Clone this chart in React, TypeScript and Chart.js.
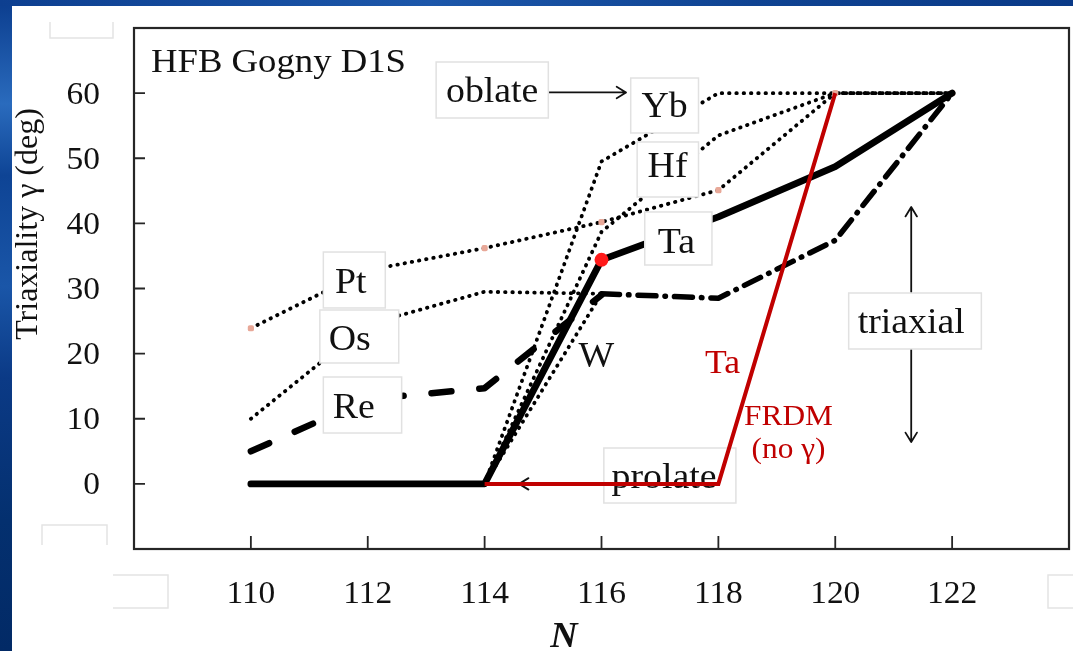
import React, { useEffect, useRef } from 'react';
import { Chart, registerables } from 'chart.js';

Chart.register(...registerables);

// Neutron number N for every calculated nucleus
const neutronNumbers = [110, 112, 114, 116, 118, 120, 122];

// HFB Gogny D1S triaxiality γ (deg) for each isotope chain
const gammaTa = [0, 0, 0, 34.4, 41.0, 48.7, 60];
const gammaW = [0, 0, 0, 29.2, 28.5, 37.4, 60];
const gammaRe = [5, 13, 14.7, 29, null, null, null];
const gammaOs = [10, 24.5, 29.5, 29.2, null, null, null];
const gammaPt = [23.9, 32.8, 36.2, 40.2, 45.1, 60, 60];
const gammaHf = [0, 0, 0, 38.7, 53.5, 60, 60];
const gammaYb = [0, 0, 0, 49.5, 60, 60, 60];

// FRDM prediction for Ta (no γ degree of freedom: prolate jumps to oblate)
const gammaTaFRDM = [null, null, 0, 0, 0, 60, null];

// Axis ticks and ranges
const xTickValues = [110, 112, 114, 116, 118, 120, 122];
const yTickValues = [0, 10, 20, 30, 40, 50, 60];
const xRange = [108, 124];
const yRange = [-10, 70];

const W = 1073;
const H = 651;
const SERIF = '"Liberation Serif", "Times New Roman", Times, serif';
const STRETCH = 1.08;
const DOTTED = [0.5, 6.8];
const DOT_WIDTH = 3.8;

type Pt = { x: number; y: number | null };
const toPoints = (vals: (number | null)[]): Pt[] =>
  neutronNumbers.map((n, i) => ({ x: n, y: vals[i] }));

function drawText(
  ctx: CanvasRenderingContext2D,
  text: string,
  x: number,
  y: number,
  size: number,
  opts: { align?: CanvasTextAlign; color?: string; font?: string; stretch?: number } = {}
) {
  ctx.save();
  ctx.font = `${opts.font || ''} ${size}px ${SERIF}`;
  ctx.fillStyle = opts.color || '#111';
  ctx.textAlign = opts.align || 'center';
  ctx.textBaseline = 'alphabetic';
  ctx.translate(x, y);
  ctx.scale(opts.stretch ?? STRETCH, 1);
  ctx.fillText(text, 0, 0);
  ctx.restore();
}

function drawBox(ctx: CanvasRenderingContext2D, x1: number, y1: number, x2: number, y2: number) {
  ctx.save();
  ctx.fillStyle = '#ffffff';
  ctx.fillRect(x1, y1, x2 - x1, y2 - y1);
  ctx.strokeStyle = '#e1e1e1';
  ctx.lineWidth = 1.5;
  ctx.strokeRect(x1, y1, x2 - x1, y2 - y1);
  ctx.restore();
}

function drawArrow(ctx: CanvasRenderingContext2D, x1: number, y1: number, x2: number, y2: number) {
  const ang = Math.atan2(y2 - y1, x2 - x1);
  const head = 11;
  const spread = 0.55;
  ctx.save();
  ctx.strokeStyle = '#111';
  ctx.lineWidth = 1.8;
  ctx.lineCap = 'round';
  ctx.lineJoin = 'round';
  ctx.beginPath();
  ctx.moveTo(x1, y1);
  ctx.lineTo(x2, y2);
  ctx.moveTo(x2 - head * Math.cos(ang - spread), y2 - head * Math.sin(ang - spread));
  ctx.lineTo(x2, y2);
  ctx.lineTo(x2 - head * Math.cos(ang + spread), y2 - head * Math.sin(ang + spread));
  ctx.stroke();
  ctx.restore();
}

// Labelled boxes, placed in data units (N, γ): [N1, γtop, N2, γbottom] and text anchor
const boxedLabels = [
  { text: 'oblate', box: [113.17, 64.78, 115.09, 56.18], at: [114.13, 58.64] },
  { text: 'Yb', box: [116.5, 62.32, 117.66, 53.88], at: [117.08, 56.33] },
  { text: 'Hf', box: [116.61, 52.5, 117.66, 44.05], at: [117.13, 47.06] },
  { text: 'Ta', box: [116.74, 41.75, 117.89, 33.61], at: [117.28, 35.45] },
  { text: 'Pt', box: [111.24, 35.6, 112.3, 27.01], at: [111.71, 29.31] },
  { text: 'Os', box: [111.18, 26.7, 112.53, 18.56], at: [111.69, 20.56] },
  { text: 'Re', box: [111.24, 16.41, 112.58, 7.81], at: [111.76, 10.12] },
  { text: 'triaxial', box: [120.23, 29.31, 122.5, 20.71], at: [121.3, 23.17] },
];

const decorPlugin = {
  id: 'decor',
  beforeDatasetsDraw(chart: any) {
    const { ctx } = chart;
    const sx = chart.scales.x;
    const sy = chart.scales.y;
    const px = (v: number) => sx.getPixelForValue(v);
    const py = (v: number) => sy.getPixelForValue(v);
    // prolate box sits under the curves
    drawBox(ctx, px(116.04), py(5.51), px(118.3), py(-2.94));
    drawText(ctx, 'prolate', px(117.07), py(-0.63), 35);
    drawArrow(ctx, px(116.04), py(0), px(114.59), py(0));
  },
  afterDatasetsDraw(chart: any) {
    const { ctx, chartArea } = chart;
    const sx = chart.scales.x;
    const sy = chart.scales.y;
    const px = (v: number) => sx.getPixelForValue(v);
    const py = (v: number) => sy.getPixelForValue(v);
    const { left, right, top, bottom } = chartArea;

    // faint empty text frames around the figure
    ctx.save();
    ctx.strokeStyle = '#e4e4e4';
    ctx.lineWidth = 1.5;
    ctx.beginPath();
    ctx.moveTo(50, 22); ctx.lineTo(50, 38); ctx.lineTo(113, 38); ctx.lineTo(113, 22);
    ctx.moveTo(42, 545); ctx.lineTo(42, 525); ctx.lineTo(107, 525); ctx.lineTo(107, 545);
    ctx.moveTo(113, 575); ctx.lineTo(168, 575); ctx.lineTo(168, 608); ctx.lineTo(113, 608);
    ctx.moveTo(1073, 575); ctx.lineTo(1048, 575); ctx.lineTo(1048, 608); ctx.lineTo(1073, 608);
    ctx.stroke();
    ctx.restore();

    // plot frame
    ctx.save();
    ctx.strokeStyle = '#262626';
    ctx.lineWidth = 2.2;
    ctx.strokeRect(left, top, right - left, bottom - top);
    // inward tick marks
    ctx.lineWidth = 1.8;
    ctx.beginPath();
    yTickValues.forEach((v) => {
      ctx.moveTo(left, py(v));
      ctx.lineTo(left + 11, py(v));
    });
    xTickValues.forEach((v) => {
      ctx.moveTo(px(v), bottom);
      ctx.lineTo(px(v), bottom - 13);
    });
    ctx.stroke();
    ctx.restore();

    // tick labels
    yTickValues.forEach((v) => drawText(ctx, String(v), left - 34, py(v) + 10.5, 31, { align: 'right' }));
    xTickValues.forEach((v) => drawText(ctx, String(v), px(v), bottom + 54, 31));

    // axis titles
    ctx.save();
    ctx.translate(left - 97, 224);
    ctx.rotate(-Math.PI / 2);
    ctx.font = `32px ${SERIF}`;
    ctx.fillStyle = '#111';
    ctx.textAlign = 'center';
    ctx.textBaseline = 'alphabetic';
    ctx.fillText('Triaxiality γ (deg)', 0, 0);
    ctx.restore();
    drawText(ctx, 'N', 564, 647, 35, { font: 'italic bold' });

    // model title
    drawText(ctx, 'HFB Gogny D1S', px(108.29), py(63.24), 34, { align: 'left' });

    // arrows
    drawArrow(ctx, px(115.09), py(60.1), px(116.42), py(60.1));
    drawArrow(ctx, px(121.3), py(29.46), px(121.3), py(42.51));
    drawArrow(ctx, px(121.3), py(20.71), px(121.3), py(6.43));

    // boxed labels
    boxedLabels.forEach((l) => {
      drawBox(ctx, px(l.box[0]), py(l.box[1]), px(l.box[2]), py(l.box[3]));
      drawText(ctx, l.text, px(l.at[0]), py(l.at[1]), 35);
    });
    drawText(ctx, 'W', px(115.91), py(17.95), 35);

    // FRDM annotation
    drawText(ctx, 'Ta', px(118.07), py(17.02), 33, { color: '#c00000' });
    drawText(ctx, 'FRDM', px(119.2), py(9.04), 29, { color: '#c00000' });
    drawText(ctx, '(no γ)', px(119.2), py(3.97), 29, { color: '#c00000' });
  },
};

const dottedStyle = {
  borderColor: '#000',
  borderWidth: DOT_WIDTH,
  borderDash: DOTTED,
  borderCapStyle: 'round' as const,
  borderJoinStyle: 'round' as const,
  pointRadius: 0,
  tension: 0,
  fill: false,
};

export default function App() {
  const canvasRef = useRef<HTMLCanvasElement>(null);

  useEffect(() => {
    const canvas = canvasRef.current;
    if (!canvas) return;
    const chart = new Chart(canvas, {
      type: 'line',
      data: {
        datasets: [
          {
            label: 'Ta FRDM',
            data: toPoints(gammaTaFRDM),
            borderColor: '#c00000',
            borderWidth: 4,
            tension: 0,
            pointRadius: 0,
            borderJoinStyle: 'miter',
          },
          {
            label: 'Ta',
            data: toPoints(gammaTa),
            borderColor: '#000',
            borderWidth: 6.8,
            borderCapStyle: 'round',
            borderJoinStyle: 'round',
            tension: 0,
            pointRadius: (c: any) => (c.dataIndex === 3 ? 7 : 0),
            pointBackgroundColor: '#ff1a1a',
            pointBorderWidth: 0,
          },
          {
            label: 'W',
            data: toPoints(gammaW),
            borderColor: '#000',
            borderWidth: 5.5,
            borderCapStyle: 'round',
            borderJoinStyle: 'round',
            tension: 0,
            pointRadius: 0,
            segment: {
              borderDash: (c: any) => (c.p0DataIndex < 3 ? DOTTED : [18, 9, 0.5, 9]),
              borderWidth: (c: any) => (c.p0DataIndex < 3 ? DOT_WIDTH : 5.5),
            },
          },
          {
            label: 'Re',
            data: toPoints(gammaRe),
            borderColor: '#000',
            borderWidth: 6.5,
            borderDash: [20, 28],
            borderCapStyle: 'round',
            borderJoinStyle: 'round',
            tension: 0,
            pointRadius: 0,
          },
          {
            label: 'Pt',
            data: toPoints(gammaPt),
            ...dottedStyle,
            pointRadius: 3.6,
            pointStyle: 'rectRounded',
            pointBackgroundColor: '#e8a898',
            pointBorderWidth: 0,
          },
          { label: 'Os', data: toPoints(gammaOs), ...dottedStyle },
          { label: 'Hf', data: toPoints(gammaHf), ...dottedStyle },
          { label: 'Yb', data: toPoints(gammaYb), ...dottedStyle },
        ],
      },
      options: {
        responsive: false,
        animation: false,
        events: [],
        layout: { padding: { left: 134, top: 28, right: 2, bottom: 102 } },
        scales: {
          x: { type: 'linear', min: xRange[0], max: xRange[1], display: false },
          y: { type: 'linear', min: yRange[0], max: yRange[1], display: false },
        },
        plugins: {
          legend: { display: false },
          tooltip: { enabled: false },
        },
      },
      plugins: [decorPlugin],
    } as any);
    return () => chart.destroy();
  }, []);

  return (
    <div
      style={{
        position: 'fixed',
        left: 0,
        top: 0,
        width: W,
        height: H,
        overflow: 'hidden',
        background:
          'linear-gradient(180deg, #0b3d8e 0%, #2a6bbd 16%, #0e4495 27%, #1a56a8 44%, #0b3a86 58%, #04306f 80%, #022a66 100%)',
      }}
    >
      <div
        style={{
          position: 'absolute',
          left: 0,
          top: 0,
          width: W,
          height: 6,
          background: 'linear-gradient(90deg, #0d3f90 0%, #1c57aa 40%, #0f4392 70%, #0a3a88 100%)',
        }}
      />
      <div style={{ position: 'absolute', left: 12, top: 6, right: 0, bottom: 0, background: '#ffffff' }} />
      <canvas
        ref={canvasRef}
        width={W}
        height={H}
        style={{ position: 'absolute', left: 0, top: 0, width: W, height: H }}
      />
    </div>
  );
}
